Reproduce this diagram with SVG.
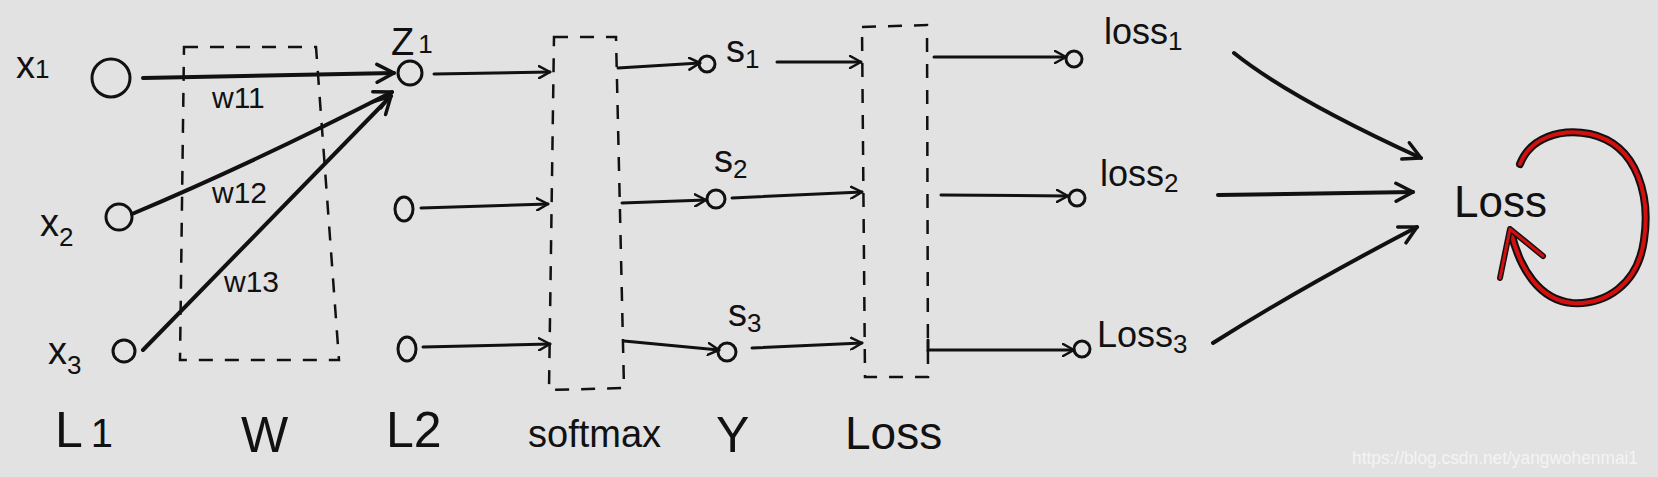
<svg xmlns="http://www.w3.org/2000/svg" width="1658" height="477" viewBox="0 0 1658 477">
<defs>
<style>
.bg{fill:#e2e2e2}
.node{fill:none;stroke:#111;stroke-width:3}
.con{fill:none;stroke:#111;stroke-width:3;stroke-linecap:round}
.thick{stroke-width:4}
.box{fill:none;stroke:#111;stroke-width:2.5;stroke-dasharray:14 12}
.t{font-family:"Liberation Sans","DejaVu Sans",sans-serif;fill:#111}
.lbl{font-size:38px}
.ls{font-size:36px}
.w{font-size:30px}
.big{font-size:50px}
.sub{font-size:26px}
.wm{font-family:"Liberation Sans",sans-serif;font-size:18px;fill:#f4f4f4}
</style>
<marker id="ah" viewBox="0 0 14 14" refX="12" refY="7" markerWidth="14" markerHeight="14" markerUnits="userSpaceOnUse" orient="auto">
<path d="M1,1 L12,7 L1,13" fill="none" stroke="#111" stroke-width="2.5" stroke-linecap="round" stroke-linejoin="round"/>
</marker>
<marker id="ahb" viewBox="0 0 22 22" refX="19" refY="11" markerWidth="22" markerHeight="22" markerUnits="userSpaceOnUse" orient="auto">
<path d="M2,2 L19,11 L2,20" fill="none" stroke="#111" stroke-width="3.5" stroke-linecap="round" stroke-linejoin="round"/>
</marker>
</defs>
<rect class="bg" x="0" y="0" width="1658" height="477"/>

<g id="box-W"><path class="box" d="M184,47 L316,47 L339,360 L180,360 Z"/></g>
<g id="box-softmax"><path class="box" d="M554,37 L616,37 L624,388 L549,390 Z"/></g>
<g id="box-loss"><path class="box" d="M862,27 L927,25 L928,377 L865,377 Z"/></g>

<g id="node-x1"><circle class="node" cx="111" cy="78" r="19"/><text class="t lbl" x="16" y="78">x<tspan class="sub">1</tspan></text></g>
<g id="node-x2"><circle class="node" cx="119" cy="217" r="13"/><text class="t lbl" x="40" y="236">x<tspan class="sub" dy="10">2</tspan></text></g>
<g id="node-x3"><circle class="node" cx="124" cy="351" r="11"/><text class="t lbl" x="48" y="364">x<tspan class="sub" dy="10">3</tspan></text></g>
<g id="node-z1"><circle class="node" cx="410" cy="73" r="12"/><text class="t lbl" x="391" y="55">Z<tspan class="sub" dx="4" dy="-2">1</tspan></text></g>
<g id="node-z2"><ellipse class="node" cx="404" cy="209" rx="9" ry="12"/></g>
<g id="node-z3"><ellipse class="node" cx="407" cy="349" rx="9" ry="12"/></g>
<g id="node-s1"><circle class="node" cx="707" cy="64" r="8"/><text class="t lbl" x="726" y="62">s<tspan class="sub" dy="6">1</tspan></text></g>
<g id="node-s2"><circle class="node" cx="716" cy="199" r="9"/><text class="t lbl" x="714" y="172">s<tspan class="sub" dy="6">2</tspan></text></g>
<g id="node-s3"><circle class="node" cx="727" cy="352" r="9"/><text class="t lbl" x="728" y="326">s<tspan class="sub" dy="6">3</tspan></text></g>
<g id="node-loss1"><circle class="node" cx="1074" cy="59" r="8"/><text class="t ls" x="1104" y="44">loss<tspan class="sub" dy="6">1</tspan></text></g>
<g id="node-loss2"><circle class="node" cx="1077" cy="198" r="8"/><text class="t ls" x="1100" y="186">loss<tspan class="sub" dy="6">2</tspan></text></g>
<g id="node-loss3"><circle class="node" cx="1082" cy="349" r="8"/><text class="t ls" x="1097" y="347">Loss<tspan class="sub" dy="6">3</tspan></text></g>
<g id="node-Loss"><text class="t" x="1454" y="217" font-size="44">Loss</text>
<path d="M1520,164 C1530,138 1560,128 1590,134 C1640,145 1650,200 1644,240 C1638,285 1605,305 1572,303 C1540,300 1520,270 1511,232" fill="none" stroke="#111" stroke-width="8" stroke-linecap="round"/>
<path d="M1520,164 C1530,138 1560,128 1590,134 C1640,145 1650,200 1644,240 C1638,285 1605,305 1572,303 C1540,300 1520,270 1511,232" fill="none" stroke="#d40f0f" stroke-width="4" stroke-linecap="round"/>
<path d="M1500,278 L1510,229 L1543,256" fill="none" stroke="#111" stroke-width="6" stroke-linecap="round" stroke-linejoin="round"/>
<path d="M1500,278 L1510,229 L1543,256" fill="none" stroke="#d40f0f" stroke-width="3" stroke-linecap="round" stroke-linejoin="round"/>
</g>

<g id="labels">
<text class="t big" x="55" y="447">L<tspan dx="8" font-size="40">1</tspan></text>
<text class="t big" x="241" y="452">W</text>
<text class="t big" x="386" y="447">L2</text>
<text class="t" x="528" y="447" font-size="38">softmax</text>
<text class="t big" x="716" y="452">Y</text>
<text class="t" x="845" y="449" font-size="46">Loss</text>
<text class="t w" x="212" y="108">w11</text>
<text class="t w" x="212" y="203">w12</text>
<text class="t w" x="224" y="292">w13</text>
</g>

<g id="connectors">
<path class="con thick" d="M143,78 L394,73" marker-end="url(#ahb)"/>
<path class="con thick" d="M132,214 Q255,162 392,92" marker-end="url(#ahb)"/>
<path class="con thick" d="M143,350 L391,96" marker-end="url(#ahb)"/>
<path class="con" d="M434,74 L550,72" marker-end="url(#ah)"/>
<path class="con" d="M421,208 L548,204" marker-end="url(#ah)"/>
<path class="con" d="M423,347 L550,344" marker-end="url(#ah)"/>
<path class="con" d="M618,68 L700,63" marker-end="url(#ah)"/>
<path class="con" d="M622,203 L706,200" marker-end="url(#ah)"/>
<path class="con" d="M624,341 L719,350" marker-end="url(#ah)"/>
<path class="con" d="M777,62 L861,62" marker-end="url(#ah)"/>
<path class="con" d="M732,198 L862,192" marker-end="url(#ah)"/>
<path class="con" d="M752,348 L862,343" marker-end="url(#ah)"/>
<path class="con" d="M934,57 L1066,57" marker-end="url(#ah)"/>
<path class="con" d="M941,195 L1068,196" marker-end="url(#ah)"/>
<path class="con" d="M928,340 L928,350 L1074,350" marker-end="url(#ah)"/>
<path class="con thick" d="M1234,53 Q1290,98 1421,158" marker-end="url(#ahb)"/>
<path class="con thick" d="M1218,195 L1413,192" marker-end="url(#ahb)"/>
<path class="con thick" d="M1213,343 Q1300,288 1417,227" marker-end="url(#ahb)"/>
</g>

<text class="wm" x="1352" y="464" textLength="286" lengthAdjust="spacingAndGlyphs">https://blog.csdn.net/yangwohenmai1</text>
</svg>
